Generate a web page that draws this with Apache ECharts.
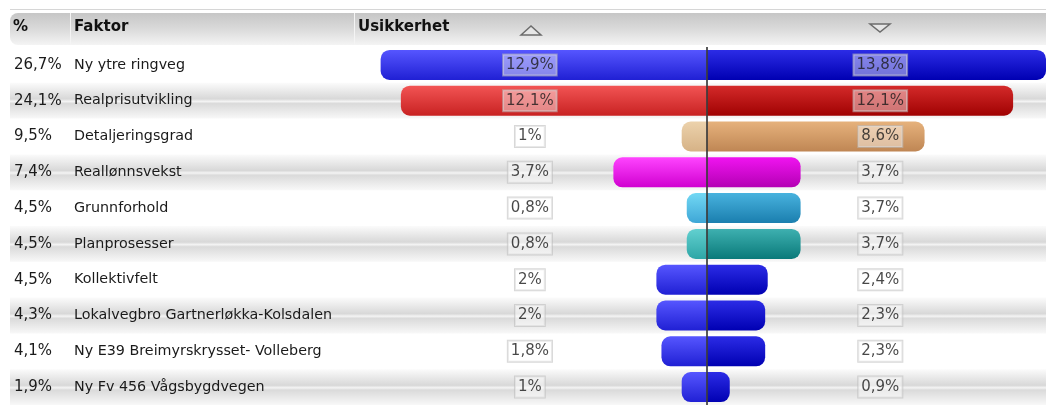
<!DOCTYPE html>
<html>
<head>
<meta charset="utf-8">
<script src="https://cdn.jsdelivr.net/npm/echarts@6/dist/echarts.min.js"></script>
<style>
  html, body { margin: 0; padding: 0; background: #fff; }
  #chart { width: 1046px; height: 405px; }
</style>
</head>
<body>
<div id="chart"></div>
<script>
// tabell-data
var shares = [26.7, 24.1, 9.5, 7.4, 4.5, 4.5, 4.5, 4.3, 4.1, 1.9];
var factors = [
  "Ny ytre ringveg",
  "Realprisutvikling",
  "Detaljeringsgrad",
  "Reallønnsvekst",
  "Grunnforhold",
  "Planprosesser",
  "Kollektivfelt",
  "Lokalvegbro Gartnerløkka-Kolsdalen",
  "Ny E39 Breimyrskrysset- Volleberg",
  "Ny Fv 456 Vågsbygdvegen"
];
var upValues = [12.9, 12.1, 1, 3.7, 0.8, 0.8, 2, 2, 1.8, 1];
var downValues = [13.8, 12.1, 8.6, 3.7, 3.7, 3.7, 2.4, 2.3, 2.3, 0.9];

// farger pr rad: [venstre topp, venstre bunn, høyre topp, høyre bunn]
var blue = ["#5656ff", "#2020d4", "#2c2ce6", "#0000b2"];
var palette = [
  blue,
  ["#f25454", "#c82222", "#d42a2a", "#a00202"],
  ["#ecd2ac", "#d6b286", "#e6b27c", "#bf8654"],
  ["#ff44ff", "#d000d0", "#f014f0", "#b400b4"],
  ["#72d8f4", "#3ea6d6", "#48b2de", "#1a7eae"],
  ["#62d0d0", "#2ea6a6", "#3eb0b0", "#0a7a7a"],
  blue, blue, blue, blue
];

function fmt(v) {
  return String(v).replace(".", ",") + "%";
}

function grad(top, bottom) {
  return new echarts.graphic.LinearGradient(0, 0, 0, 1, [
    { offset: 0, color: top },
    { offset: 1, color: bottom }
  ]);
}

var rowBand = new echarts.graphic.LinearGradient(0, 0, 0, 1, [
  { offset: 0, color: "#fbfbfb" },
  { offset: 0.45, color: "#d8d8d8" },
  { offset: 0.52, color: "#f4f4f4" },
  { offset: 0.58, color: "#dadada" },
  { offset: 1, color: "#f8f8f8" }
]);

var headGrad = new echarts.graphic.LinearGradient(0, 0, 0, 1, [
  { offset: 0, color: "#c6c6c6" },
  { offset: 0.5, color: "#dadada" },
  { offset: 1, color: "#f4f4f4" }
]);

var labelBox = {
  show: true,
  position: "inside",
  fontFamily: "DejaVu Sans",
  fontSize: 15,
  color: "#1a1a1a",
  backgroundColor: "rgba(255,255,255,0.55)",
  borderColor: "rgba(185,185,185,0.7)",
  borderWidth: 1,
  padding: [4, 3, 2, 3]
};

var myChart = echarts.init(document.getElementById("chart"));

myChart.setOption({
  animation: false,
  textStyle: { fontFamily: "DejaVu Sans" },
  grid: {
    left: 10,
    right: 0,
    top: 47,
    height: 364
  },
  xAxis: {
    type: "value",
    min: -27.55,
    max: 13.4,
    axisLine: { show: false },
    axisTick: { show: false },
    axisLabel: { show: false },
    splitLine: { show: false }
  },
  yAxis: {
    type: "category",
    inverse: true,
    data: factors,
    axisLine: { show: false },
    axisTick: { show: false },
    splitArea: {
      show: true,
      areaStyle: { color: ["rgba(255,255,255,0)", rowBand] }
    },
    axisLabel: {
      inside: true,
      margin: 4,
      align: "left",
      formatter: function (name, i) {
        return "{p|" + fmt(shares[i]) + "}{n|" + name + "}";
      },
      rich: {
        p: { width: 60, fontSize: 15, color: "#1a1a1a", fontFamily: "DejaVu Sans" },
        n: { fontSize: 14.3, color: "#1a1a1a", fontFamily: "DejaVu Sans" }
      }
    }
  },
  graphic: [
    {
      type: "line",
      shape: { x1: 10, y1: 9.5, x2: 1046, y2: 9.5 },
      style: { stroke: "#d6d6d6", lineWidth: 1 }
    },
    {
      type: "rect",
      shape: { x: 10, y: 13, width: 1040, height: 32, r: [8, 0, 0, 8] },
      style: { fill: headGrad }
    },
    {
      type: "line",
      shape: { x1: 70.5, y1: 13, x2: 70.5, y2: 45 },
      style: { stroke: "#f4f4f4", lineWidth: 1 }
    },
    {
      type: "line",
      shape: { x1: 354.5, y1: 13, x2: 354.5, y2: 45 },
      style: { stroke: "#f4f4f4", lineWidth: 1 }
    },
    {
      type: "text",
      left: 13,
      top: 20,
      style: { text: "%", font: "bold 15px 'DejaVu Sans'", fill: "#111" }
    },
    {
      type: "text",
      left: 74,
      top: 20,
      style: { text: "Faktor", font: "bold 15px 'DejaVu Sans'", fill: "#111" }
    },
    {
      type: "text",
      left: 358,
      top: 20,
      style: { text: "Usikkerhet", font: "bold 15px 'DejaVu Sans'", fill: "#111" }
    },
    {
      type: "polygon",
      shape: { points: [[521, 35], [531, 26], [541, 35]] },
      style: { fill: "#e6e6e6", stroke: "#6c6c6c", lineWidth: 1.5 }
    },
    {
      type: "polygon",
      shape: { points: [[870, 24], [890, 24], [880, 32]] },
      style: { fill: "#e6e6e6", stroke: "#6c6c6c", lineWidth: 1.5 }
    }
  ],
  series: [
    {
      name: "opp",
      type: "bar",
      barWidth: 30,
      barGap: "-100%",
      z: 3,
      data: upValues.map(function (v, i) {
        return {
          value: -v,
          itemStyle: {
            color: grad(palette[i][0], palette[i][1]),
            borderRadius: [9, 0, 0, 9]
          }
        };
      })
    },
    {
      name: "ned",
      type: "bar",
      barWidth: 30,
      barGap: "-100%",
      z: 3,
      data: downValues.map(function (v, i) {
        return {
          value: v,
          itemStyle: {
            color: grad(palette[i][2], palette[i][3]),
            borderRadius: [0, 9, 9, 0]
          }
        };
      }),
      markLine: {
        silent: true,
        symbol: "none",
        label: { show: false },
        lineStyle: { color: "rgba(60,60,60,0.85)", width: 2, type: "solid" },
        data: [{ xAxis: 0 }]
      }
    },
    {
      name: "opp-etikett",
      type: "scatter",
      symbolSize: 0,
      z: 5,
      label: Object.assign({}, labelBox, {
        formatter: function (p) { return fmt(p.value[2]); }
      }),
      data: upValues.map(function (v, i) { return [-7, factors[i], v]; })
    },
    {
      name: "ned-etikett",
      type: "scatter",
      symbolSize: 0,
      z: 5,
      label: Object.assign({}, labelBox, {
        formatter: function (p) { return fmt(p.value[2]); }
      }),
      data: downValues.map(function (v, i) { return [6.85, factors[i], v]; })
    }
  ]
});
</script>
</body>
</html>
